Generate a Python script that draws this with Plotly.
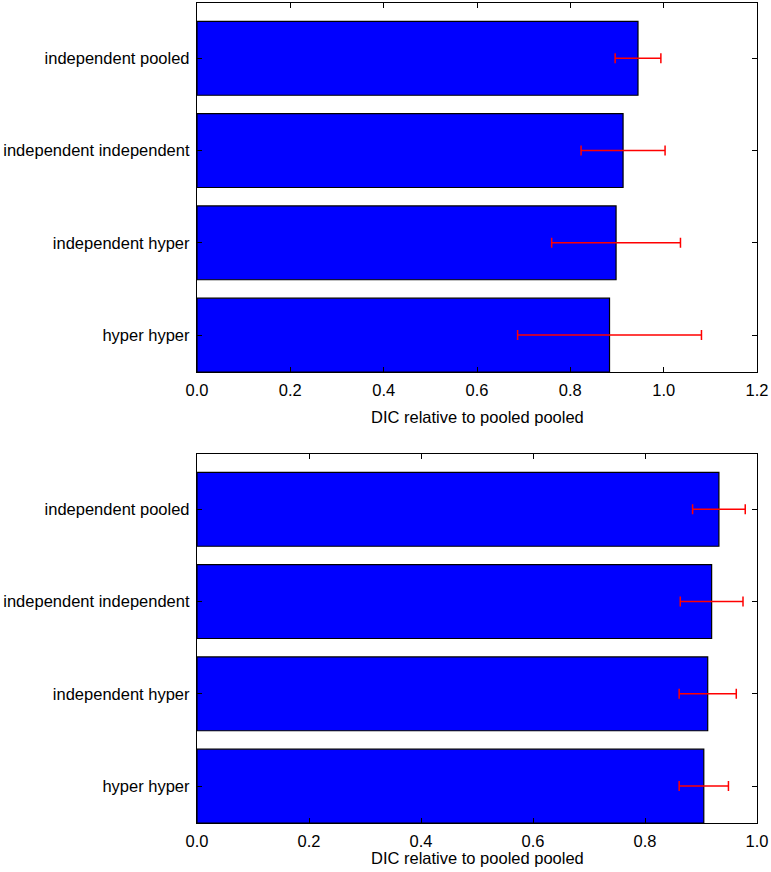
import plotly.graph_objects as go

categories = ["independent pooled", "independent independent", "independent hyper", "hyper hyper"]
top_values = [0.945, 0.913, 0.898, 0.884]
top_err = [0.049, 0.090, 0.138, 0.197]
bottom_values = [0.932, 0.919, 0.912, 0.905]
bottom_err = [0.047, 0.056, 0.051, 0.044]
x_title = "DIC relative to pooled pooled"

FONT = dict(family="Liberation Sans, Arial, sans-serif", size=16.5, color="black")

fig = go.Figure()

for vals, errs, xa, ya in [(top_values, top_err, "x", "y"), (bottom_values, bottom_err, "x2", "y2")]:
    fig.add_trace(go.Bar(
        x=vals, y=categories, orientation="h",
        marker=dict(color="#0000ff", line=dict(color="black", width=1.2)),
        error_x=dict(type="data", array=errs, visible=True, color="red", thickness=1.5, width=5),
        xaxis=xa, yaxis=ya, showlegend=False,
    ))

axis_common = dict(showline=True, linecolor="black", linewidth=1.3, mirror="ticks",
                   ticks="inside", ticklen=5, tickcolor="black", showgrid=False,
                   zeroline=False, tickfont=FONT, automargin=False)

fig.update_layout(
    width=771, height=872,
    margin=dict(l=197, r=14, t=3, b=49),
    plot_bgcolor="white", paper_bgcolor="white",
    bargap=0.2,
    font=FONT,
    xaxis=dict(domain=[0, 1], anchor="y", range=[0, 1.2], dtick=0.2, tickformat=".1f",
               ticklabelstandoff=3, **axis_common),
    yaxis=dict(domain=[0.55, 1.0], anchor="x", range=[3.4, -0.6], type="category",
               ticklabelstandoff=3,
               categoryorder="array", categoryarray=categories, **axis_common),
    xaxis2=dict(domain=[0, 1], anchor="y2", range=[0, 1.0], dtick=0.2, tickformat=".1f",
                ticklabelstandoff=3, **axis_common),
    yaxis2=dict(domain=[0, 0.45], anchor="x2", range=[3.4, -0.6], type="category",
                ticklabelstandoff=3,
                categoryorder="array", categoryarray=categories, **axis_common),
    annotations=[
        dict(text=x_title, xref="paper", yref="paper", x=0.5, y=0.4956,
             xanchor="center", yanchor="middle", showarrow=False, font=FONT),
        dict(text=x_title, xref="paper", yref="paper", x=0.5, y=-0.0427,
             xanchor="center", yanchor="middle", showarrow=False, font=FONT),
    ],
)

fig.write_html("out.html", config={"displayModeBar": False},
               post_script="document.body.style.margin='0';document.body.style.overflow='hidden';")
